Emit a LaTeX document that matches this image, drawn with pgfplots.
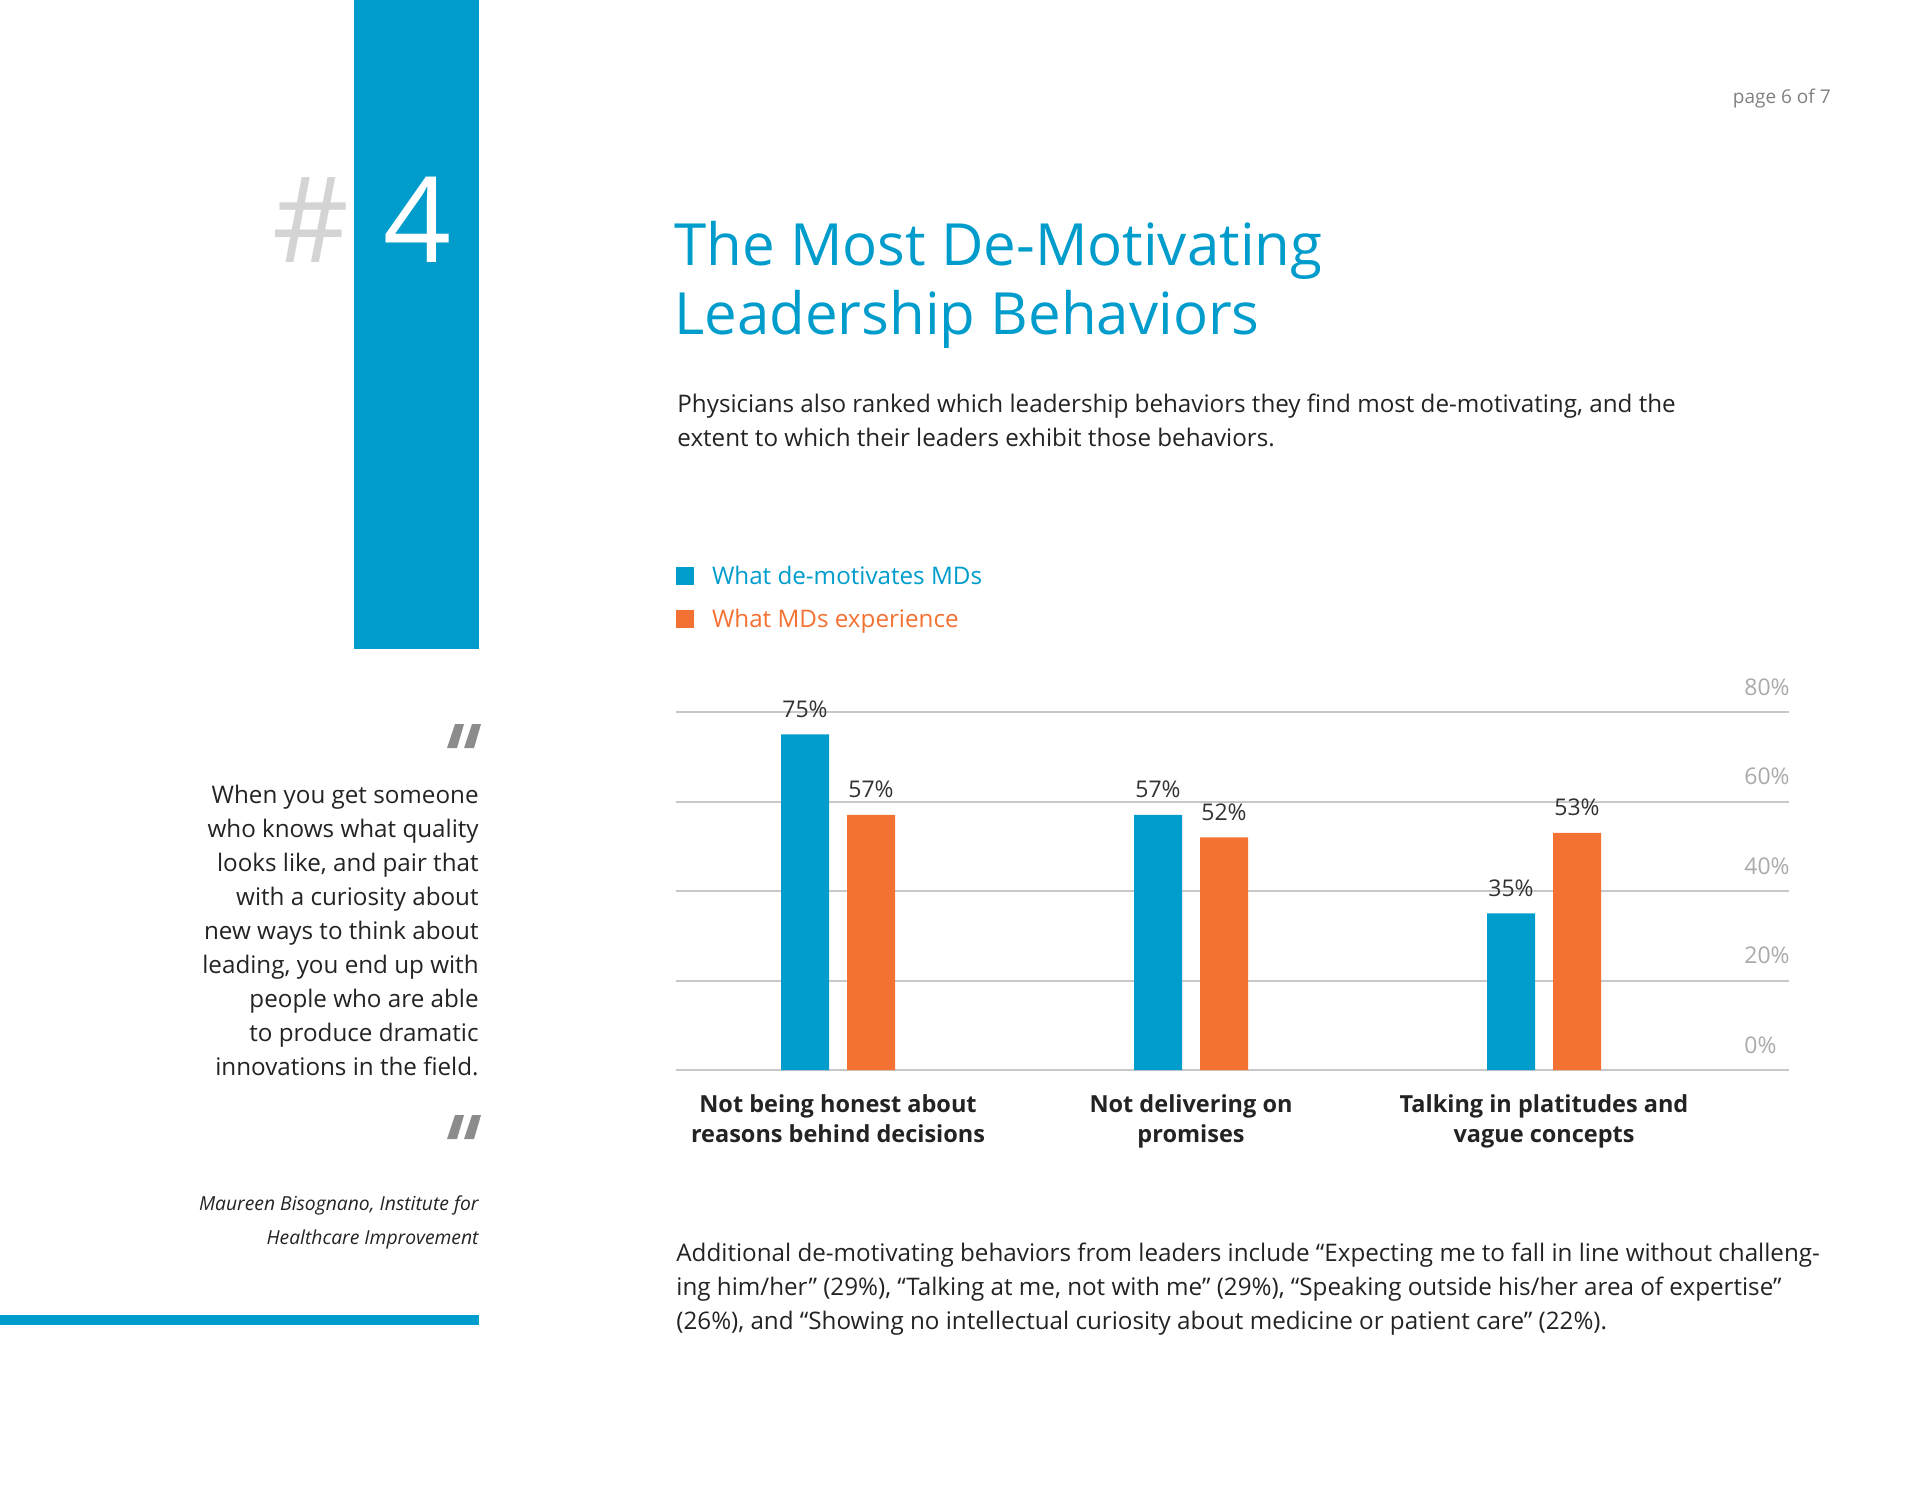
\documentclass[border=0pt]{standalone}
\usepackage{pgfplots}
\pgfplotsset{compat=1.18}
\usepackage{fontspec}
\setmainfont{Open Sans}

\definecolor{mdblue}{RGB}{0,156,204}
\definecolor{mdorange}{RGB}{243,113,50}
\definecolor{gridgray}{RGB}{200,200,200}
\definecolor{tickgray}{RGB}{170,170,170}
\definecolor{textdark}{RGB}{35,35,35}
\definecolor{valgray}{RGB}{50,50,50}
\definecolor{hashgray}{RGB}{212,212,212}
\definecolor{quotegray}{RGB}{140,140,140}
\definecolor{pagegray}{RGB}{128,128,128}

\newcommand\fs[2]{\fontsize{#1}{#2}\selectfont}

\begin{document}
\begin{tikzpicture}
% page furniture, coordinates in pixels of the 1920x1484 page (y down)
\begin{scope}[x=0.5pt,y=-0.5pt]
\useasboundingbox (0,0) rectangle (1920,1484);
\fill[mdblue] (354,0) rectangle (479,649);
\node[anchor=base west, inner sep=0pt, text=hashgray, font=\fs{59.5}{60}] at (272,262) {\#};
\node[anchor=base west, inner sep=0pt, text=white, font=\fs{59.5}{60}] at (383,262) {4};
\node[anchor=base east, inner sep=0pt, text=pagegray, font=\fs{9.5}{12}] at (1831,103) {page 6 of 7};

% title and intro
\node[anchor=base west, inner sep=0pt, text=mdblue, font=\fs{29.1}{35}] at (674,265) {The Most De-Motivating};
\node[anchor=base west, inner sep=0pt, text=mdblue, font=\fs{29.1}{35}] at (674,334) {Leadership Behaviors};
\node[anchor=base west, inner sep=0pt, text=textdark, font=\fs{12.1}{17}] at (677,412) {Physicians also ranked which leadership behaviors they find most de-motivating, and the};
\node[anchor=base west, inner sep=0pt, text=textdark, font=\fs{12.1}{17}] at (677,446) {extent to which their leaders exhibit those behaviors.};

% quote
\fill[quotegray] (447,748) -- (457,748) -- (464,724) -- (455,724) -- cycle;
\fill[quotegray] (464,748) -- (474,748) -- (481,724) -- (472,724) -- cycle;
\begin{scope}[every node/.style={anchor=base east, inner sep=0pt, text=textdark, font=\fs{12.1}{17}}]
\node at (479,803) {When you get someone};
\node at (479,837) {who knows what quality};
\node at (479,871) {looks like, and pair that};
\node at (479,905) {with a curiosity about};
\node at (479,939) {new ways to think about};
\node at (479,973) {leading, you end up with};
\node at (479,1007) {people who are able};
\node at (479,1041) {to produce dramatic};
\node at (479,1075) {innovations in the field.};
\end{scope}
\fill[quotegray] (447,1139) -- (457,1139) -- (464,1115) -- (455,1115) -- cycle;
\fill[quotegray] (464,1139) -- (474,1139) -- (481,1115) -- (472,1115) -- cycle;
\node[anchor=base east, inner sep=0pt, text=textdark, font=\fs{9.65}{12}\itshape] at (479,1210) {Maureen Bisognano, Institute for};
\node[anchor=base east, inner sep=0pt, text=textdark, font=\fs{9.65}{12}\itshape] at (479,1244) {Healthcare Improvement};
\fill[mdblue] (0,1315) rectangle (479,1325);

% closing paragraph
\begin{scope}[every node/.style={anchor=base west, inner sep=0pt, text=textdark, font=\fs{12.1}{17}}]
\node at (676,1261) {Additional de-motivating behaviors from leaders include “Expecting me to fall in line without challeng-};
\node at (676,1295) {ing him/her” (29\%), “Talking at me, not with me” (29\%), “Speaking outside his/her area of expertise”};
\node at (676,1329) {(26\%), and “Showing no intellectual curiosity about medicine or patient care” (22\%).};
\end{scope}
\end{scope}

\begin{axis}[
  scale only axis,
  width=556.5pt, height=179pt,
  at={(338pt,-535pt)}, anchor=south west,
  xmin=-0.459, xmax=2.694,
  ymin=0, ymax=80,
  ybar=9pt, bar width=24pt,
  axis line style={draw=none},
  tick style={draw=none},
  major tick length=0pt,
  ytick={0,20,40,60,80},
  yticklabels={0\%,20\%,40\%,60\%,80\%},
  yticklabel pos=right,
  yticklabel style={anchor=base west, inner sep=0pt, xshift=-22.5pt, yshift=8.5pt,
    font=\fs{11.5}{13}, text=tickgray},
  ymajorgrids,
  major grid style={line width=1pt, draw=gridgray},
  xtick={0,1,2},
  xticklabels={{Not being honest about\\reasons behind decisions},
                {Not delivering on\\promises},
                {Talking in platitudes and\\vague concepts}},
  xticklabel style={anchor=north, align=center, inner sep=0pt, yshift=-12pt,
    font=\fs{11.75}{15}\bfseries, text=textdark},
  nodes near coords={\pgfmathprintnumber[assume math mode=true]{\pgfplotspointmeta}\%},
  nodes near coords style={anchor=base, inner sep=0pt, yshift=8.5pt,
    font=\fs{11.5}{13}, text=valgray},
  legend image code/.code={\fill (0pt,-4.5pt) rectangle (9pt,4.5pt);},
  legend cell align=left,
  legend style={at={(0,1)}, anchor=north west, yshift=72.7pt,
    draw=none, fill=none, inner sep=0pt, outer sep=0pt,
    row sep=12.6pt, column sep=9pt,
    nodes={inner sep=0pt, text height=9pt, text depth=0pt},
    font=\fs{12.1}{14}},
]
\addplot[fill=mdblue, draw=none] coordinates {(0,75) (1,57) (2,35)};
\addlegendentry{\textcolor{mdblue}{What de-motivates MDs}}
\addplot[fill=mdorange, draw=none] coordinates {(0,57) (1,52) (2,53)};
\addlegendentry{\textcolor{mdorange}{What MDs experience}}
\end{axis}
\end{tikzpicture}
\end{document}
